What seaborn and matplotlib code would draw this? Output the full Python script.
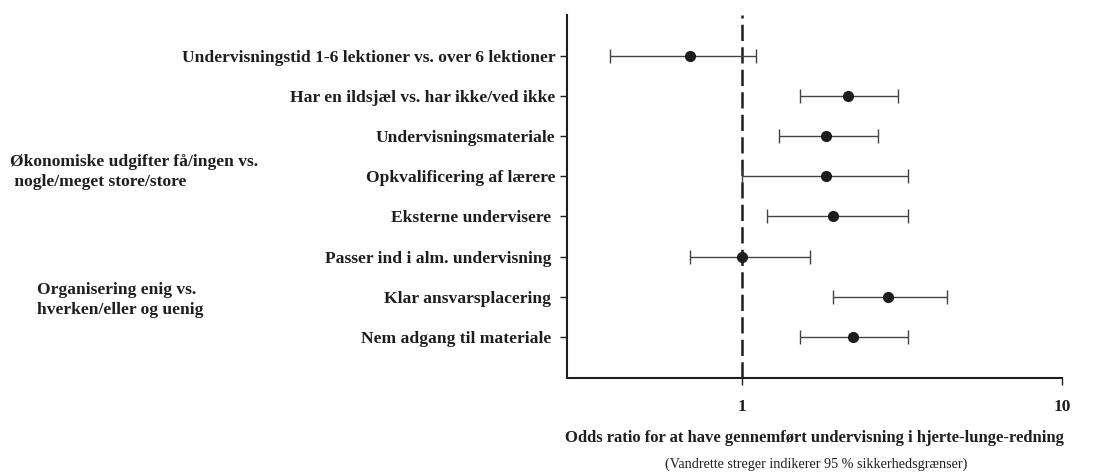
"""
Forest plot: odds ratios for HLR-undervisning
"""
import numpy as np
import pandas as pd
import matplotlib
matplotlib.use("Agg")
import matplotlib.pyplot as plt
import seaborn as sns

# data
labels = [
    "Undervisningstid 1-6 lektioner vs. over 6 lektioner",
    "Har en ildsjæl vs. har ikke/ved ikke",
    "Undervisningsmateriale",
    "Opkvalificering af lærere",
    "Eksterne undervisere ",
    "Passer ind i alm. undervisning ",
    "Klar ansvarsplacering ",
    "Nem adgang til materiale ",
]
odds_ratio = [0.69, 2.14, 1.83, 1.83, 1.93, 1.00, 2.87, 2.23]
ci_low = [0.39, 1.52, 1.31, 1.00, 1.20, 0.69, 1.93, 1.52]
ci_high = [1.11, 3.08, 2.67, 3.31, 3.31, 1.63, 4.38, 3.31]
group_labels = [
    "Økonomiske udgifter få/ingen vs.\n nogle/meget store/store",
    "Organisering enig vs.\nhverken/eller og uenig",
]
xtick_vals = [1, 10]
xlabel = "Odds ratio for at have gennemført undervisning i hjerte-lunge-redning"
note = "(Vandrette streger indikerer 95 % sikkerhedsgrænser)"

df = pd.DataFrame({
    "label": labels,
    "pos": np.arange(len(labels)),
    "or": odds_ratio,
    "lo": ci_low,
    "hi": ci_high,
})

sns.set_theme(style="ticks")
plt.rcParams["font.family"] = ["Liberation Serif", "DejaVu Serif"]
ink = "#1e1e1e"

fig = plt.figure(figsize=(10.94, 4.74), dpi=100)
ax = fig.add_axes([0.518, 0.203, 0.453, 0.765])

# confidence intervals
ax.errorbar(
    df["or"], df["pos"],
    xerr=[df["or"] - df["lo"], df["hi"] - df["or"]],
    fmt="none", ecolor="#444444", elinewidth=1.0, capsize=5, capthick=1.0,
    zorder=2,
)
sns.scatterplot(data=df, x="or", y="pos", color=ink, s=65,
                edgecolor=ink, linewidth=0, ax=ax, zorder=3, legend=False)

ax.axvline(1, color=ink, linestyle=(0, (6.5, 2.5)), linewidth=1.8, zorder=1)

ax.set_xscale("log")
ax.set_xlim(0.285, 10)
ax.set_ylim(len(labels) - 1 + 1.03, -1.03)

ax.set_xticks(xtick_vals)
ax.set_xticklabels([str(v) for v in xtick_vals], fontweight="bold",
                   fontsize=12.5, color=ink)
ax.xaxis.set_minor_locator(matplotlib.ticker.NullLocator())
ax.set_yticks(df["pos"])
ax.set_yticklabels(df["label"], fontweight="bold", fontsize=12.6, color=ink)
ax.tick_params(axis="y", length=5, width=1.0, color=ink, pad=3)
ax.tick_params(axis="x", length=5, width=1.0, color=ink, pad=10)

sns.despine(ax=ax)
for side in ["left", "bottom"]:
    ax.spines[side].set_color(ink)
    ax.spines[side].set_linewidth(1.5)

ax.set_xlabel(xlabel, fontweight="bold", fontsize=12, color=ink, labelpad=11)
ax.set_ylabel("")
fig.text(0.746, 0.006, note, ha="center", va="bottom", fontsize=10.2, color=ink)

# group headings on the far left
fig.text(0.009, 0.637, group_labels[0], ha="left", va="center",
         fontweight="bold", fontsize=12.6, color=ink, linespacing=1.35)
fig.text(0.034, 0.367, group_labels[1], ha="left", va="center",
         fontweight="bold", fontsize=12.6, color=ink, linespacing=1.35)

fig.savefig("out.png", dpi=100, facecolor="white")
